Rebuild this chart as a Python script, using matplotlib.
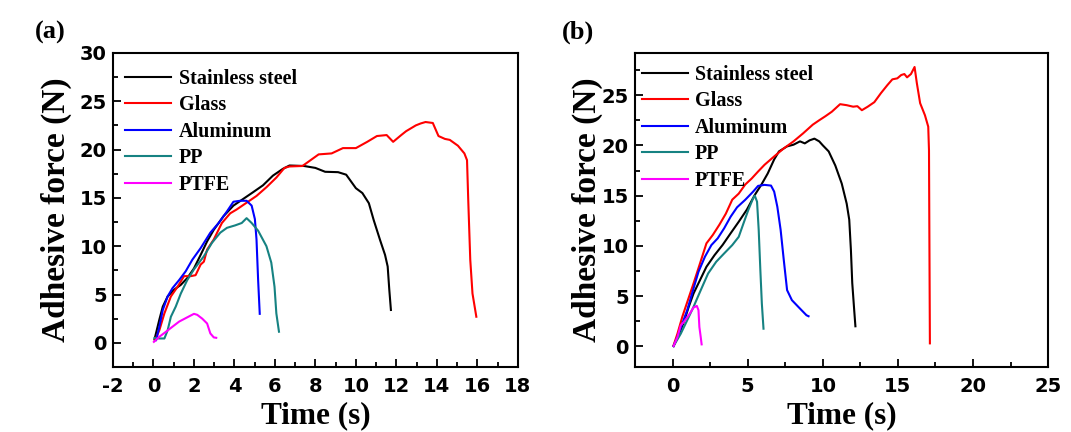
import numpy as np
import matplotlib.pyplot as plt
from matplotlib.ticker import MultipleLocator

plt.rcParams["axes.unicode_minus"] = False

# ---- data (time in s, force in N) ----
labels = ["Stainless steel", "Glass", "Aluminum", "PP", "PTFE"]
colors = ["black", "#ff0000", "#0000ff", "#168282", "#ff00ff"]

# panel (a)
a_steel_t = [0.05, 0.29, 0.46, 0.7, 1.02, 1.35, 1.67, 2.0, 2.33, 2.65, 2.98, 3.46, 3.95, 4.44,
             4.93, 5.41, 5.9, 6.39, 6.72, 7.44, 8.0, 8.48, 9.12, 9.52, 9.76, 10.0, 10.32, 10.64,
             10.88, 11.2, 11.44, 11.57, 11.65, 11.73]
a_steel_f = [0.35, 2.4, 3.75, 4.8, 5.5, 6.0, 6.7, 7.7, 9.1, 10.5, 11.7, 13.1, 14.2, 14.9,
             15.6, 16.3, 17.3, 18.0, 18.35, 18.3, 18.1, 17.7, 17.66, 17.4, 16.7, 16.0, 15.5, 14.45,
             12.7, 10.6, 9.1, 7.9, 5.5, 3.4]
a_glass_t = [0.08, 0.29, 0.54, 0.86, 1.19, 1.51, 1.84, 2.08, 2.33, 2.49, 2.65, 2.98, 3.38, 3.79,
             4.11, 4.6, 5.09, 5.58, 6.07, 6.47, 6.72, 7.36, 7.76, 8.16, 8.8, 9.36, 10.0, 10.56,
             11.04, 11.52, 11.84, 12.24, 12.48, 12.96, 13.2, 13.44, 13.8, 14.08, 14.4, 14.64,
             15.04, 15.36, 15.49, 15.55, 15.65, 15.76, 15.95]
a_glass_f = [0.28, 1.3, 3.05, 4.8, 5.8, 6.9, 6.9, 7.0, 8.1, 8.4, 9.65, 10.7, 12.4, 13.4,
             13.8, 14.5, 15.2, 16.1, 17.1, 18.1, 18.25, 18.3, 18.9, 19.5, 19.6, 20.15, 20.15, 20.8,
             21.4, 21.5, 20.8, 21.5, 21.9, 22.5, 22.7, 22.85, 22.75, 21.4, 21.1, 21.0,
             20.4, 19.6, 18.9, 14.8, 8.6, 5.1, 2.7]
a_al_t = [0.13, 0.29, 0.46, 0.7, 0.94, 1.27, 1.59, 1.92, 2.33, 2.81, 3.22, 3.63, 3.95, 4.28,
          4.6, 4.85, 5.01, 5.09, 5.17, 5.25]
a_al_f = [0.28, 1.67, 3.4, 4.8, 5.66, 6.5, 7.4, 8.6, 9.8, 11.4, 12.4, 13.6, 14.6, 14.7,
          14.7, 14.2, 12.8, 10.7, 6.5, 3.0]
a_pp_t = [0.05, 0.29, 0.54, 0.7, 0.86, 1.1, 1.35, 1.67, 2.0, 2.49, 2.89, 3.3, 3.63, 4.03,
          4.36, 4.6, 4.85, 5.17, 5.58, 5.82, 5.98, 6.07, 6.2]
a_pp_f = [0.5, 0.45, 0.45, 1.3, 2.7, 3.75, 5.1, 6.5, 7.6, 8.96, 10.35, 11.4, 11.9, 12.15,
          12.4, 12.9, 12.4, 11.6, 10.0, 8.3, 5.8, 3.05, 1.15]
a_ptfe_t = [0.02, 0.29, 0.62, 0.94, 1.27, 1.67, 2.0, 2.16, 2.41, 2.65, 2.81, 2.98, 3.1]
a_ptfe_f = [0.1, 0.63, 1.15, 1.67, 2.2, 2.64, 3.0, 2.9, 2.5, 2.0, 0.97, 0.56, 0.52]

# panel (b)
b_steel_t = [0.06, 0.43, 0.75, 1.07, 1.39, 1.82, 2.25, 2.79, 3.33, 3.86, 4.4, 4.94, 5.47, 5.9,
             6.33, 6.76, 7.08, 7.62, 8.05, 8.48, 8.8, 9.12, 9.44, 9.76, 10.0, 10.39, 10.83,
             11.26, 11.59, 11.76, 11.87, 11.96, 12.09, 12.17]
b_steel_f = [0.03, 1.26, 2.43, 3.93, 5.26, 6.59, 7.92, 9.08, 10.1, 11.25, 12.4, 13.6, 15.07, 16.07,
             17.2, 18.6, 19.4, 19.9, 20.07, 20.4, 20.2, 20.5, 20.67, 20.4, 20.0, 19.4, 18.0,
             16.2, 14.2, 12.6, 9.6, 6.3, 3.6, 2.0]
b_glass_t = [0.06, 0.32, 0.64, 0.97, 1.39, 1.82, 2.25, 2.68, 3.11, 3.54, 3.97, 4.4, 4.83, 5.26,
             5.69, 6.12, 6.76, 7.4, 8.05, 8.69, 9.33, 9.76, 10.17, 10.6, 11.15, 11.59, 12.02,
             12.3, 12.6, 12.99, 13.43, 13.87, 14.3, 14.63, 14.96, 15.22, 15.43, 15.61, 15.87,
             16.11, 16.26, 16.48, 16.8, 17.02, 17.07, 17.09, 17.13]
b_glass_f = [0.1, 1.26, 2.93, 4.4, 6.26, 8.25, 10.25, 11.1, 12.1, 13.2, 14.6, 15.2, 16.1, 16.7,
             17.4, 18.07, 18.9, 19.7, 20.4, 21.2, 22.06, 22.5, 22.9, 23.35, 24.1, 24.0, 23.85,
             23.9, 23.5, 23.85, 24.3, 25.2, 26.0, 26.57, 26.67, 27.0, 27.1, 26.77, 27.1,
             27.8, 26.2, 24.2, 23.0, 21.86, 19.5, 12.9, 0.3]
b_al_t = [0.06, 0.32, 0.64, 0.97, 1.39, 1.72, 2.15, 2.58, 3.0, 3.43, 3.86, 4.29, 4.83, 5.36,
          5.69, 6.12, 6.55, 6.76, 6.97, 7.19, 7.4, 7.62, 7.94, 8.37, 8.91, 9.05]
b_al_f = [0.03, 0.93, 2.26, 3.6, 5.76, 7.42, 8.92, 10.08, 10.75, 11.75, 12.9, 13.84, 14.58, 15.4,
          15.97, 16.07, 16.0, 15.4, 13.9, 11.6, 8.6, 5.6, 4.6, 3.93, 3.1, 3.0]
b_pp_t = [0.06, 0.54, 0.97, 1.39, 1.82, 2.36, 2.9, 3.43, 3.97, 4.4, 4.72, 5.04, 5.36, 5.47,
          5.62, 5.73, 5.84, 5.94, 6.05]
b_pp_f = [0.03, 1.26, 2.6, 3.93, 5.42, 7.25, 8.42, 9.25, 10.08, 10.9, 12.25, 13.58, 14.74, 15.0,
          14.4, 11.6, 7.6, 4.26, 1.76]
b_ptfe_t = [0.06, 0.32, 0.54, 0.75, 1.07, 1.39, 1.61, 1.72, 1.78, 1.87, 1.93]
b_ptfe_f = [0.03, 0.93, 2.1, 2.43, 3.1, 3.86, 4.03, 3.6, 1.93, 0.93, 0.2]

serif = "Liberation Serif"
sans = "DejaVu Sans"

fig = plt.figure(figsize=(10.71, 4.32), dpi=100)
ax_a = fig.add_axes([0.1055, 0.1505, 0.378, 0.727])
ax_b = fig.add_axes([0.593, 0.1505, 0.3856, 0.727])

panels = [
    (ax_a, [(a_steel_t, a_steel_f), (a_glass_t, a_glass_f), (a_al_t, a_al_f),
            (a_pp_t, a_pp_f), (a_ptfe_t, a_ptfe_f)]),
    (ax_b, [(b_steel_t, b_steel_f), (b_glass_t, b_glass_f), (b_al_t, b_al_f),
            (b_pp_t, b_pp_f), (b_ptfe_t, b_ptfe_f)]),
]

for ax, series in panels:
    for (t, f), lab, c in zip(series, labels, colors):
        ax.plot(t, f, color=c, lw=1.5, label=lab)
    for sp in ax.spines.values():
        sp.set_linewidth(1.5)
    ax.tick_params(which="both", direction="in", top=False, right=False, width=1.3)
    ax.tick_params(which="major", length=6)
    ax.tick_params(which="minor", length=3.5)
    ax.tick_params(axis="x", pad=7)
    ax.tick_params(axis="y", pad=4.5)
    ax.set_xlabel("Time (s)", fontfamily=serif, fontweight="bold", fontsize=22.5)
    ax.set_ylabel("Adhesive force (N)", fontfamily=serif, fontweight="bold", fontsize=24)

# panel (a) axes
ax_a.set_xlim(-2, 18)
ax_a.set_ylim(-2.5, 30)
ax_a.xaxis.set_major_locator(MultipleLocator(2))
ax_a.xaxis.set_minor_locator(MultipleLocator(1))
ax_a.yaxis.set_major_locator(MultipleLocator(5))
ax_a.yaxis.set_minor_locator(MultipleLocator(2.5))

# panel (b) axes
ax_b.set_xlim(-2.5, 25)
ax_b.set_ylim(-2.05, 29.2)
ax_b.set_xticks([0, 5, 10, 15, 20, 25])
ax_b.xaxis.set_minor_locator(MultipleLocator(2.5))
ax_b.set_yticks([0, 5, 10, 15, 20, 25])
ax_b.yaxis.set_minor_locator(MultipleLocator(2.5))

for ax in (ax_a, ax_b):
    for lbl in ax.get_xticklabels() + ax.get_yticklabels():
        lbl.set_fontfamily(sans)
        lbl.set_fontweight("bold")
        lbl.set_fontsize(14)

ax_a.yaxis.set_label_coords(-0.101, 0.5)
ax_b.yaxis.set_label_coords(-0.077, 0.5)
ax_a.xaxis.set_label_coords(0.5, -0.11)
ax_b.xaxis.set_label_coords(0.5, -0.11)

leg_kw = dict(loc="upper left", frameon=False, borderpad=0, borderaxespad=0,
              handlelength=2.3, handletextpad=0.35, labelspacing=0.32,
              prop={"family": serif, "weight": "bold", "size": 14.5})
ax_a.legend(bbox_to_anchor=(0.03, 0.949), **leg_kw)
ax_b.legend(bbox_to_anchor=(0.016, 0.962), **leg_kw)

fig.text(50 / 1071, 1 - 32 / 432, "(a)", fontfamily=serif, fontweight="bold",
         fontsize=19, ha="center", va="center")
fig.text(578 / 1071, 1 - 32 / 432, "(b)", fontfamily=serif, fontweight="bold",
         fontsize=19, ha="center", va="center")

fig.savefig("out.png", dpi=100)
